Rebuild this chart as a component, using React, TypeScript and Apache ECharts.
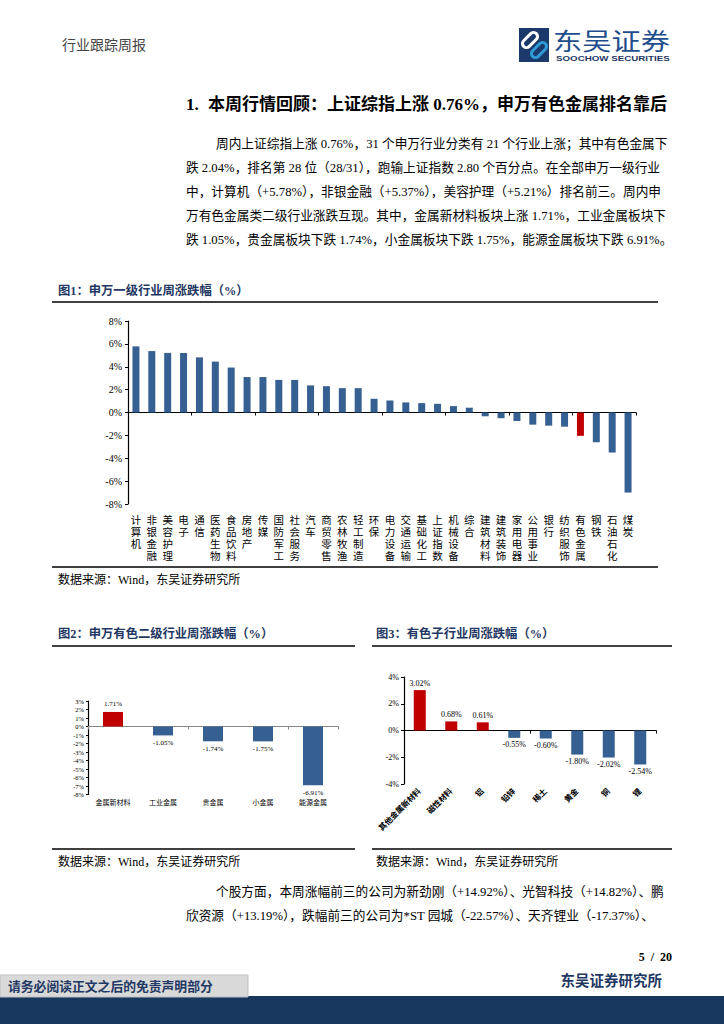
import React, { useEffect, useRef } from 'react';
import * as echarts from 'echarts';

const fig1Categories = ['计算机', '非银金融', '美容护理', '电子', '通信', '医药生物', '食品饮料', '房地产', '传媒', '国防军工', '社会服务', '汽车', '商贸零售', '农林牧渔', '轻工制造', '环保', '电力设备', '交通运输', '基础化工', '上证指数', '机械设备', '综合', '建筑材料', '建筑装饰', '家用电器', '公用事业', '银行', '纺织服饰', '有色金属', '钢铁', '石油石化', '煤炭'];
const fig1Values = [5.78, 5.37, 5.21, 5.2, 4.82, 4.45, 3.93, 3.1, 3.1, 2.85, 2.85, 2.37, 2.3, 2.13, 2.13, 1.2, 1.05, 0.88, 0.82, 0.76, 0.56, 0.42, -0.33, -0.5, -0.74, -1.06, -1.15, -1.24, -2.04, -2.6, -3.5, -7.0];
const fig1Ticks = [-8, -6, -4, -2, 0, 2, 4, 6, 8];

const fig2Categories = ['金属新材料', '工业金属', '贵金属', '小金属', '能源金属'];
const fig2Values = [1.71, -1.05, -1.74, -1.75, -6.91];
const fig2Ticks = [-8, -7, -6, -5, -4, -3, -2, -1, 0, 1, 2, 3];

const fig3Categories = ['其他金属新材料', '磁性材料', '铝', '铅锌', '稀土', '黄金', '铜', '锂'];
const fig3Values = [3.02, 0.68, 0.61, -0.55, -0.6, -1.8, -2.02, -2.54];
const fig3Ticks = [-4, -2, 0, 2, 4];

const para1 = [
  '周内上证综指上涨 0.76%，31 个申万行业分类有 21 个行业上涨；其中有色金属下',
  '跌 2.04%，排名第 28 位（28/31），跑输上证指数 2.80 个百分点。在全部申万一级行业',
  '中，计算机（+5.78%），非银金融（+5.37%），美容护理（+5.21%）排名前三。周内申',
  '万有色金属类二级行业涨跌互现。其中，金属新材料板块上涨 1.71%，工业金属板块下',
  '跌 1.05%，贵金属板块下跌 1.74%，小金属板块下跌 1.75%，能源金属板块下跌 6.91%。',
];
const para2 = [
  '个股方面，本周涨幅前三的公司为新劲刚（+14.92%）、光智科技（+14.82%）、鹏',
  '欣资源（+13.19%），跌幅前三的公司为*ST 园城（-22.57%）、天齐锂业（-17.37%）、',
];

const SERIF = "'Liberation Serif', 'Noto Sans CJK SC', serif";
const BLUE = '#365F92';
const RED = '#C00000';
const NAVY = '#1F3864';

function txt(text: string, x: number, y: number, size: number, o: any = {}) {
  const align = o.align || 'left';
  return {
    type: 'text', x, y, silent: true, scaleX: o.scaleX || 1,
    style: {
      text, fontSize: size, fontFamily: o.family || SERIF, fontWeight: o.bold ? 'bold' : 'normal',
      fill: o.color || '#000', align, textAlign: align, verticalAlign: 'middle', textVerticalAlign: 'middle',
    },
  };
}
function hline(x1: number, x2: number, y: number, w = 2, c = '#404040') {
  return { type: 'line', silent: true, shape: { x1, y1: y, x2, y2: y }, style: { stroke: c, lineWidth: w } };
}

function barData(vals: number[], cats: string[], isRed: (c: string, v: number) => boolean) {
  return vals.map((v, i) => ({
    value: v,
    itemStyle: { color: isRed(cats[i], v) ? RED : BLUE },
    label: { position: v >= 0 ? 'top' : 'bottom' },
  }));
}

function labelAxis(grid: number, data: string[], label: any) {
  return {
    gridIndex: grid, type: 'category', data, position: 'bottom',
    axisLine: { show: false, onZero: false },
    axisTick: { show: false },
    axisLabel: { interval: 0, color: '#000', fontFamily: SERIF, ...label },
  };
}
function lineAxis(grid: number, data: string[], color: string) {
  return {
    gridIndex: grid, type: 'category', data, position: 'top',
    axisLine: { show: true, onZero: true, lineStyle: { color, width: 1 } },
    axisTick: { show: true, inside: true, length: 3, lineStyle: { color } },
    axisLabel: { show: false },
  };
}
function valueAxis(grid: number, ticks: number[], interval: number, fontSize: number, margin: number, tickLen: number) {
  return {
    gridIndex: grid, type: 'value', min: ticks[0], max: ticks[ticks.length - 1], interval,
    axisLine: { show: true, lineStyle: { color: '#000', width: 1.2 } },
    axisTick: { show: true, length: tickLen, lineStyle: { color: '#000' } },
    splitLine: { show: false },
    axisLabel: { formatter: '{value}%', fontSize, color: '#000', fontFamily: SERIF, margin },
  };
}

export default function App() {
  const ref = useRef<HTMLDivElement>(null);
  useEffect(() => {
    const chart = echarts.init(ref.current!, null, { renderer: 'svg' });
    const option: any = {
      animation: false,
      backgroundColor: '#fff',
      grid: [
        { left: 128, top: 321, width: 508, height: 183, outerBoundsMode: 'none' },
        { left: 88, top: 701, width: 250, height: 93.5, outerBoundsMode: 'none' },
        { left: 404, top: 677, width: 252, height: 107, outerBoundsMode: 'none' },
      ],
      xAxis: [
        labelAxis(0, fig1Categories, { margin: 10, fontSize: 10.5, lineHeight: 12, formatter: (s: string) => s.split('').join('\n') }),
        lineAxis(0, fig1Categories, '#000'),
        labelAxis(1, fig2Categories, { margin: 5, fontSize: 7 }),
        lineAxis(1, fig2Categories, '#888'),
        labelAxis(2, fig3Categories, { margin: 6, fontSize: 8, rotate: 45, fontWeight: 'bold' }),
        lineAxis(2, fig3Categories, '#000'),
      ],
      yAxis: [
        valueAxis(0, fig1Ticks, 2, 10, 6, 3),
        valueAxis(1, fig2Ticks, 1, 6.5, 4, 2),
        valueAxis(2, fig3Ticks, 2, 8, 5, 3),
      ],
      series: [
        {
          type: 'bar', xAxisIndex: 0, yAxisIndex: 0, barWidth: 7,
          data: barData(fig1Values, fig1Categories, (c) => c === '有色金属'),
        },
        {
          type: 'bar', xAxisIndex: 2, yAxisIndex: 1, barWidth: 20,
          data: barData(fig2Values, fig2Categories, (_c, v) => v > 0),
          label: { show: true, fontSize: 7, color: '#000', fontFamily: SERIF, distance: 4, formatter: (p: any) => p.value.toFixed(2) + '%' },
        },
        {
          type: 'bar', xAxisIndex: 4, yAxisIndex: 2, barWidth: 12,
          data: barData(fig3Values, fig3Categories, (_c, v) => v > 0),
          label: { show: true, fontSize: 8, color: '#000', fontFamily: SERIF, distance: 3, formatter: (p: any) => p.value.toFixed(2) + '%' },
        },
      ],
      graphic: [
        // header
        txt('行业跟踪周报', 62, 45, 14, { color: '#444' }),
        { type: 'rect', silent: true, shape: { x: 519, y: 28, width: 30, height: 34 }, style: { fill: '#1B3A6B' } },
        { type: 'rect', silent: true, x: 530, y: 40, rotation: Math.PI / 4, shape: { x: -9, y: -4, width: 18, height: 8, r: 4 }, style: { fill: 'none', stroke: '#fff', lineWidth: 3 } },
        { type: 'rect', silent: true, x: 539, y: 50, rotation: Math.PI / 4, shape: { x: -9, y: -4, width: 18, height: 8, r: 4 }, style: { fill: 'none', stroke: '#2E9BD6', lineWidth: 3 } },
        txt('东吴证券', 553, 40, 24, { color: '#1F4E8C', family: "'Noto Sans CJK SC', sans-serif", scaleX: 1.22 }),
        txt('SOOCHOW SECURITIES', 556, 58, 8, { color: '#1F3864', bold: true, family: "'Liberation Sans', sans-serif", scaleX: 1.22 }),
        // section title
        txt('1.', 186, 104, 17, { bold: true }),
        txt('本周行情回顾：上证综指上涨 0.76%，申万有色金属排名靠后', 208, 104, 17, { bold: true }),
        // paragraph 1
        ...para1.map((s, i) => txt(s, i === 0 ? 216 : 186, 144 + i * 24, 12.7)),
        // figure 1
        txt('图1：申万一级行业周涨跌幅（%）', 58, 291, 12.3, { bold: true, color: NAVY }),
        hline(52, 658, 302),
        hline(52, 658, 567),
        txt('数据来源：Wind，东吴证券研究所', 58, 580, 12),
        // figure 2 & 3 titles
        txt('图2：申万有色二级行业周涨跌幅（%）', 58, 634, 12.3, { bold: true, color: NAVY }),
        txt('图3：有色子行业周涨跌幅（%）', 376, 634, 12.3, { bold: true, color: NAVY }),
        hline(52, 355, 646),
        hline(372, 672, 646),
        hline(52, 355, 849),
        hline(372, 672, 849),
        txt('数据来源：Wind，东吴证券研究所', 58, 862, 12),
        txt('数据来源：Wind，东吴证券研究所', 376, 862, 12),
        // paragraph 2
        ...para2.map((s, i) => txt(s, i === 0 ? 216 : 186, 892 + i * 24, 12.7)),
        // footer
        txt('5  /  20', 672, 957, 12, { bold: true, align: 'right' }),
        txt('东吴证券研究所', 662, 981, 14.5, { bold: true, color: NAVY, align: 'right' }),
        { type: 'rect', silent: true, shape: { x: 0, y: 996, width: 724, height: 28 }, style: { fill: '#17375E' } },
        { type: 'rect', silent: true, shape: { x: 0, y: 975, width: 248, height: 22 }, style: { fill: '#D9D9D9', stroke: '#BFBFBF', lineWidth: 1 } },
        txt('请务必阅读正文之后的免责声明部分', 8, 987, 12.8, { bold: true, color: NAVY }),
      ],
    };
    chart.setOption(option);
    return () => chart.dispose();
  }, []);
  return <div ref={ref} style={{ position: 'absolute', left: 0, top: 0, width: 724, height: 1024, background: '#fff' }} />;
}
